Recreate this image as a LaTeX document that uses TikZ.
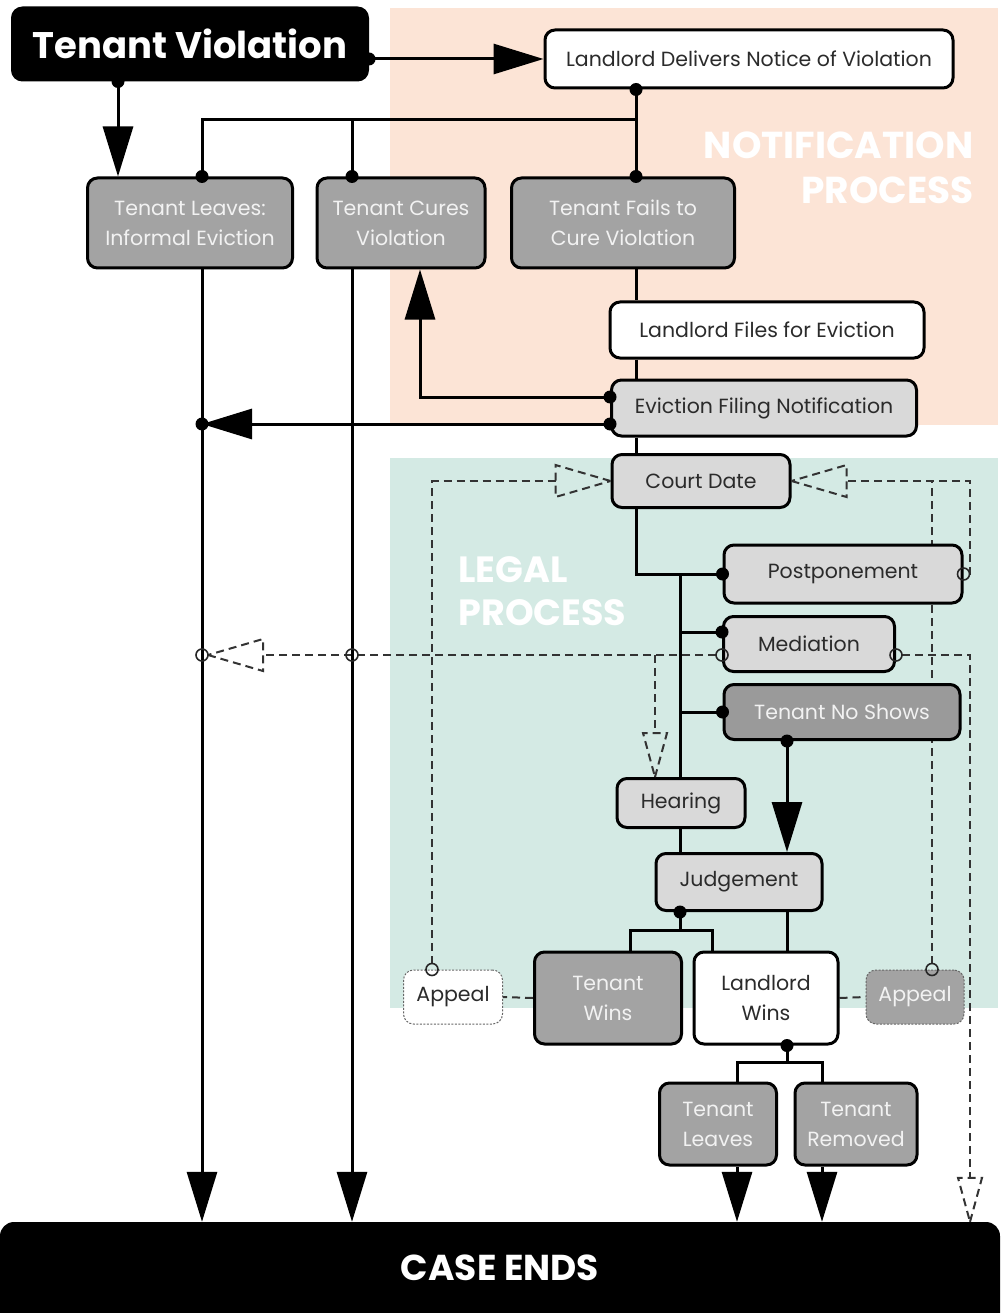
\documentclass[tikz,border=0pt]{standalone}
\usepackage{fontspec}
\setmainfont{Poppins}
\usetikzlibrary{arrows.meta,calc}

\definecolor{notebg}{HTML}{FCE4D6}
\definecolor{legalbg}{HTML}{D4EAE4}
\definecolor{boxdark}{HTML}{A3A3A3}
\definecolor{boxnoshow}{HTML}{9A9A9A}
\definecolor{boxlight}{HTML}{D9D9D9}
\definecolor{boxtext}{HTML}{F2F2F2}
\definecolor{inktext}{HTML}{2B2B2B}

\pgfdeclarelayer{background}
\pgfdeclarelayer{behind}
\pgfsetlayers{background,behind,main}

\tikzset{
  box/.style={draw=black, line width=3pt, rounded corners=10pt, align=center,
    inner sep=2pt, text=inktext, font=\fontsize{20.5}{30}\selectfont},
  darkbox/.style={box, fill=boxdark, text=boxtext},
  lightbox/.style={box, fill=boxlight},
  whitebox/.style={box, fill=white},
  appealbox/.style={box, line width=1pt, dash pattern=on 2pt off 1.5pt, draw=black!60},
  endbox/.style={fill=black, text=white, rounded corners=14pt},
  seclabel/.style={text=white, font=\fontsize{37.5}{45}\selectfont\bfseries},
  link/.style={line width=3pt},
  bigtip/.style={-{Triangle[length=50pt, width=30pt]}},
  dashline/.style={line width=2pt, draw=black!80, dash pattern=on 8pt off 5pt},
  hollowtip/.pic={\draw[dashline] (0,0) -- (-55,-16) -- (-55,16) -- cycle;},
  smalltip/.pic={\draw[dashline] (0,0) -- (-44,-12) -- (-44,12) -- cycle;},
}

\begin{document}
\begin{tikzpicture}[x=1pt, y=-1pt]
    \useasboundingbox (0,0) rectangle (1002,1313);

    % Process areas
    \begin{pgfonlayer}{background}
        \fill[notebg] (390,8) rectangle (998,425);
        \fill[legalbg] (390,458) rectangle (998,1008);
    \end{pgfonlayer}
    \node[seclabel, anchor=east, align=right] (notelabel) at (977,168) {NOTIFICATION\\PROCESS};
    \node[seclabel, anchor=west, align=left, font=\fontsize{36.5}{43}\selectfont\bfseries] (legallabel) at (455,591) {LEGAL\\PROCESS};

    % Steps
    \node[box, fill=black, text=white, font=\fontsize{37}{42}\selectfont\bfseries,
          minimum width=355, minimum height=72] (tv) at (190,44) {Tenant Violation};
    \node[whitebox, minimum width=408, minimum height=58] (notice) at (749,59) {Landlord Delivers Notice of Violation};
    \node[darkbox, minimum width=205, minimum height=90] (leaveinf) at (190,223) {Tenant Leaves:\\Informal Eviction};
    \node[darkbox, minimum width=168, minimum height=90] (cures) at (401,223) {Tenant Cures\\Violation};
    \node[darkbox, minimum width=223, minimum height=90] (fails) at (623,223) {Tenant Fails to\\Cure Violation};
    \node[whitebox, minimum width=314, minimum height=56] (files) at (767,330) {Landlord Files for Eviction};
    \node[lightbox, minimum width=305, minimum height=56] (filing) at (764,408) {Eviction Filing Notification};
    \node[lightbox, minimum width=178, minimum height=53] (court) at (701,481) {Court Date};
    \node[lightbox, minimum width=238, minimum height=58] (postp) at (843,574) {Postponement};
    \node[lightbox, minimum width=171, minimum height=55] (medi) at (809,644) {Mediation};
    \node[darkbox, fill=boxnoshow, minimum width=236, minimum height=55] (noshow) at (842,712) {Tenant No Shows};
    \node[lightbox, minimum width=128, minimum height=49] (hearing) at (681,803) {Hearing};
    \node[lightbox, minimum width=166, minimum height=57] (judge) at (739,882) {Judgement};
    \node[darkbox, minimum width=147, minimum height=92] (twins) at (608,998) {Tenant\\Wins};
    \node[whitebox, minimum width=144, minimum height=92] (lwins) at (766,998) {Landlord\\Wins};
    \node[appealbox, fill=white, minimum width=99, minimum height=54] (appealL) at (453,997) {Appeal};
    \node[appealbox, fill=boxdark, text=boxtext, minimum width=98, minimum height=54] (appealR) at (915,997) {Appeal};
    \node[darkbox, minimum width=117, minimum height=82] (tleaves) at (718,1124) {Tenant\\Leaves};
    \node[darkbox, minimum width=122, minimum height=82] (tremoved) at (856,1124) {Tenant\\Removed};
    \node[endbox, font=\fontsize{36}{42}\selectfont\bfseries, text height=26pt, text depth=20pt,
          minimum width=1000, minimum height=110] (caseend) at (500,1277) {CASE ENDS};

    % Columns and junctions
    \coordinate (dropcol) at (118,0);
    \coordinate (leavecol) at (202,0);
    \coordinate (curescol) at (352,0);
    \coordinate (returncol) at (420,0);
    \coordinate (appLcol) at (432,0);
    \coordinate (twincol) at (630,0);
    \coordinate (maincol) at (636,0);
    \coordinate (hearcol) at (655,0);
    \coordinate (legalcol) at (680,0);
    \coordinate (lwcol) at (712,0);
    \coordinate (tlcol) at (737,0);
    \coordinate (noshowcol) at (787,0);
    \coordinate (trcol) at (822,0);
    \coordinate (appRcol) at (932,0);
    \coordinate (outercol) at (970,0);
    \coordinate (topsplit) at (636,120);
    \coordinate (winsplit) at (680,930);
    \coordinate (lwsplit) at (787,1062);
    \coordinate (fl1) at ($(filing.west)+(0,-11)$);
    \coordinate (fl2) at ($(filing.west)+(0,16)$);
    \coordinate (md1) at ($(medi.west)+(0,-12)$);
    \coordinate (md2) at ($(medi.west)+(0,11)$);
    \coordinate (md3) at ($(medi.east)+(0,11)$);

    % Notification flow
    \draw[link, bigtip] (tv.east |- notice.west) -- (notice.west);
    \draw[link, bigtip] (tv.south -| dropcol) -- (leaveinf.north -| dropcol);
    \draw[link] (notice.south -| maincol) -- (fails.north -| maincol);
    \draw[link] (leaveinf.north -| leavecol) |- (topsplit);
    \draw[link] (cures.north -| curescol) -- (curescol |- topsplit);
    \draw[link] (fails.south -| maincol) -- (files.north -| maincol);
    \draw[link] (files.south -| maincol) -- (filing.north -| maincol);
    \draw[link] (filing.south -| maincol) -- (court.north -| maincol);
    \draw[link, bigtip] (fl1) -| (cures.south -| returncol);
    \draw[link, bigtip] (fl2) -- (fl2 -| leavecol);
    \draw[link, bigtip] (leaveinf.south -| leavecol) -- (caseend.north -| leavecol);
    \draw[link, bigtip] (cures.south -| curescol) -- (caseend.north -| curescol);

    % Legal flow
    \draw[link] (court.south -| maincol) |- (postp.west);
    \draw[link] (postp.west -| legalcol) -- (hearing.north -| legalcol);
    \draw[link] (legalcol |- md1) -- (md1);
    \draw[link] (legalcol |- noshow.west) -- (noshow.west);
    \draw[link, bigtip] (noshow.south -| noshowcol) -- (judge.north -| noshowcol);
    \draw[link] (hearing.south -| legalcol) -- (judge.north -| legalcol);
    \draw[link] (judge.south -| legalcol) -- (winsplit);
    \draw[link] (twins.north -| twincol) |- (winsplit) -| (lwins.north -| lwcol);
    \draw[link] (judge.south -| noshowcol) -- (lwins.north -| noshowcol);
    \draw[link] (lwins.south -| noshowcol) -- (lwsplit);
    \draw[link] (tleaves.north -| tlcol) |- (lwsplit) -| (tremoved.north -| trcol);
    \draw[link, bigtip] (tleaves.south -| tlcol) -- (caseend.north -| tlcol);
    \draw[link, bigtip] (tremoved.south -| trcol) -- (caseend.north -| trcol);

    \foreach \p in {tv.east |- notice.west, tv.south -| dropcol, notice.south -| maincol,
                    fails.north -| maincol, leaveinf.north -| leavecol, cures.north -| curescol,
                    fl1, fl2, fl2 -| leavecol, postp.west, md1, noshow.west,
                    noshow.south -| noshowcol, judge.south -| legalcol, lwins.south -| noshowcol}
        \fill (\p) circle (6.5);

    % Appeals and returns
    \begin{pgfonlayer}{behind}
        \draw[dashline] (twins.west) -- (appealL.east);
        \draw[dashline] (lwins.east) -- (appealR.west);
        \draw[dashline, shorten <=6pt, shorten >=55pt] (appealL.north -| appLcol) |- (court.west);
        \draw[dashline, shorten <=6pt, shorten >=55pt] (appealR.north -| appRcol) |- (court.east);
        \draw[dashline, shorten <=6pt] (postp.east) -| (outercol |- court.east) -- (appRcol |- court.east);
        \draw[dashline, shorten <=6pt, shorten >=61pt] (md2) -- (md2 -| leavecol);
        \draw[dashline, shorten >=44pt] (hearcol |- md2) -- (hearing.north -| hearcol);
        \draw[dashline, shorten <=6pt, shorten >=44pt] (md3) -| (caseend.north -| outercol);
    \end{pgfonlayer}
    \pic at (court.west) {hollowtip};
    \pic[rotate=180] at (court.east) {hollowtip};
    \pic[rotate=180] at ($(md2 -| leavecol)+(6,0)$) {hollowtip};
    \pic[rotate=-90] at (hearing.north -| hearcol) {smalltip};
    \pic[rotate=-90] at (caseend.north -| outercol) {smalltip};

    \foreach \p in {appealL.north -| appLcol, appealR.north -| appRcol, postp.east,
                    md2, md3, md2 -| curescol, md2 -| leavecol}
        \draw[line width=1.6pt, black!85] (\p) circle (6);
\end{tikzpicture}
\end{document}
